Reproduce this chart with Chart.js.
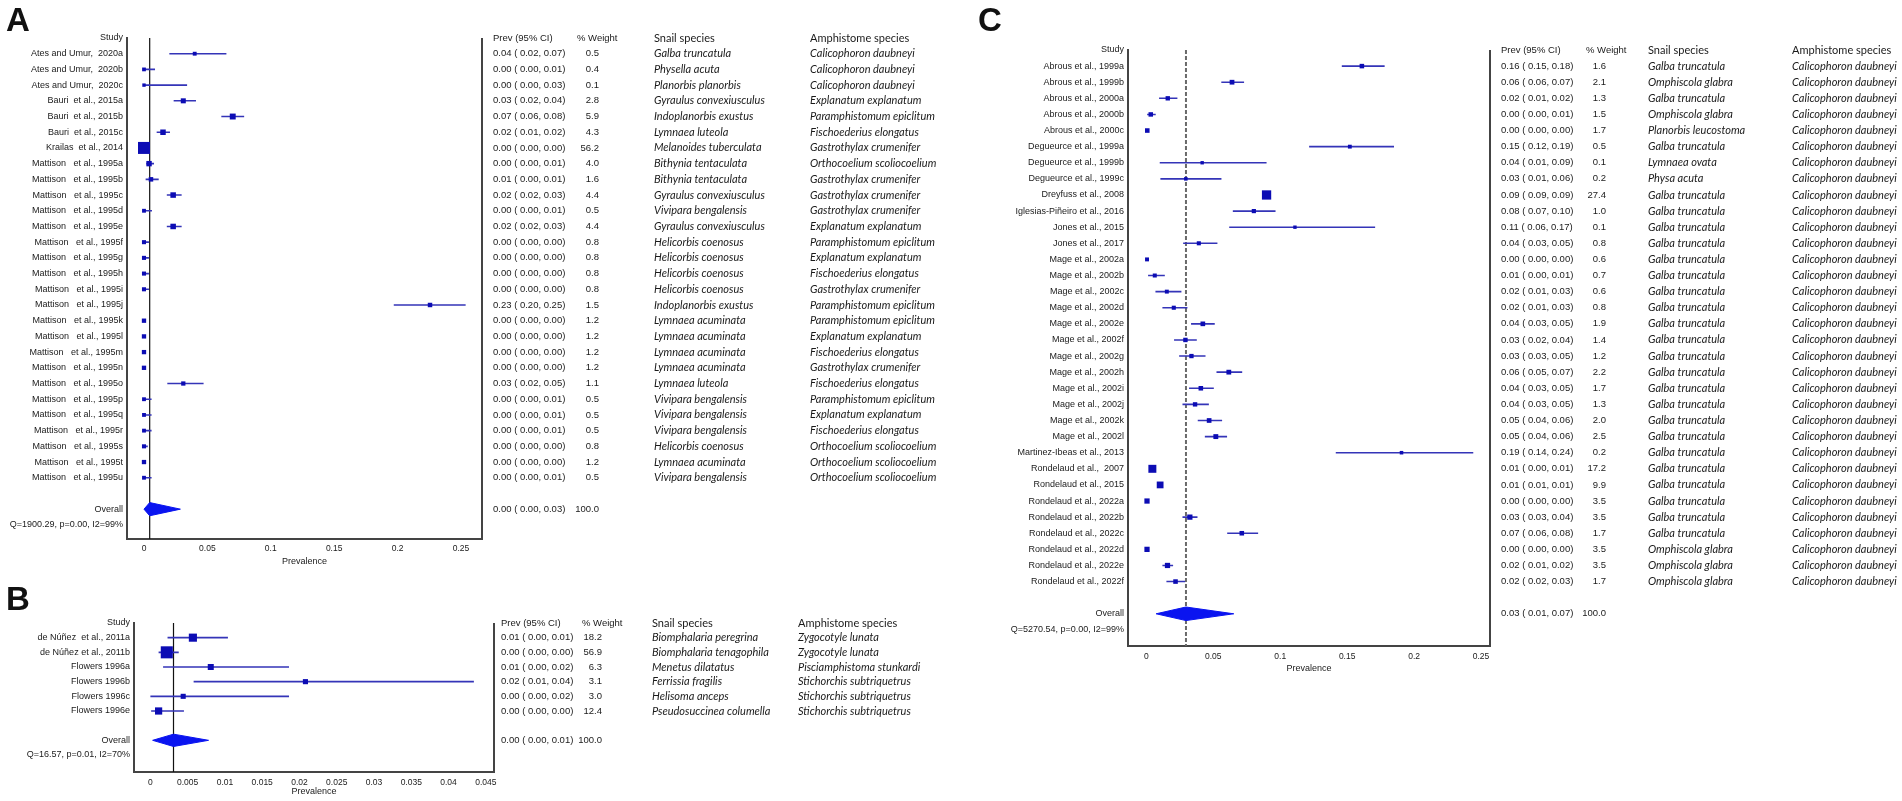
<!DOCTYPE html>
<html>
<head>
<meta charset="utf-8">
<script src="https://cdn.jsdelivr.net/npm/chart.js@4.4.1/dist/chart.umd.min.js"></script>
<style>
  body { margin: 0; background: #fff; width: 1902px; height: 801px; overflow: hidden; position: relative; }
  canvas { position: absolute; }
  .tag { position: absolute; font: bold 33px "Liberation Sans", Arial, sans-serif; line-height: 33px; color: #111; }
</style>
</head>
<body>
<canvas id="chartA" width="940" height="590" style="left:0;top:0"></canvas>
<canvas id="chartB" width="940" height="211" style="left:0;top:590px"></canvas>
<canvas id="chartC" width="962" height="801" style="left:940px;top:0"></canvas>
<div class="tag" style="left:6px;top:3px">A</div>
<div class="tag" style="left:6px;top:582px">B</div>
<div class="tag" style="left:978px;top:3px">C</div>
<script>
// Panel A data
const studiesA = ['Ates and Umur,  2020a', 'Ates and Umur,  2020b', 'Ates and Umur,  2020c',
  'Bauri  et al., 2015a', 'Bauri  et al., 2015b', 'Bauri  et al., 2015c', 'Krailas  et al., 2014',
  'Mattison   et al., 1995a', 'Mattison   et al., 1995b', 'Mattison   et al., 1995c', 'Mattison   et al., 1995d',
  'Mattison   et al., 1995e', 'Mattison   et al., 1995f', 'Mattison   et al., 1995g', 'Mattison   et al., 1995h',
  'Mattison   et al., 1995i', 'Mattison   et al., 1995j', 'Mattison   et al., 1995k', 'Mattison   et al., 1995l',
  'Mattison   et al., 1995m', 'Mattison   et al., 1995n', 'Mattison   et al., 1995o', 'Mattison   et al., 1995p',
  'Mattison   et al., 1995q', 'Mattison   et al., 1995r', 'Mattison   et al., 1995s', 'Mattison   et al., 1995t',
  'Mattison   et al., 1995u'];
const estA = [0.040, 0.000, 0.000, 0.031, 0.070, 0.015, 0.000, 0.004, 0.0055, 0.023, 0.000, 0.023, 0.000, 0.000,
  0.000, 0.000, 0.2256, 0.000, 0.000, 0.000, 0.000, 0.031, 0.000, 0.000, 0.000, 0.000, 0.000, 0.000];
const loA = [0.020, 0.000, 0.000, 0.0234, 0.061, 0.010, 0.000, 0.0018, 0.0013, 0.018, 0.000, 0.018, 0.000, 0.000,
  0.000, 0.000, 0.197, 0.000, 0.000, 0.000, 0.000, 0.0184, 0.000, 0.000, 0.000, 0.000, 0.000, 0.000];
const hiA = [0.065, 0.0087, 0.034, 0.041, 0.079, 0.0205, 0.0005, 0.0079, 0.0116, 0.0297, 0.0063, 0.0297, 0.0039, 0.0039,
  0.0039, 0.0039, 0.2537, 0.0008, 0.0008, 0.0008, 0.0008, 0.047, 0.006, 0.006, 0.006, 0.003, 0.0008, 0.006];
const weightA = [0.5, 0.4, 0.1, 2.8, 5.9, 4.3, 56.2, 4.0, 1.6, 4.4, 0.5, 4.4, 0.8, 0.8, 0.8, 0.8, 1.5, 1.2, 1.2, 1.2,
  1.2, 1.1, 0.5, 0.5, 0.5, 0.8, 1.2, 0.5];
const ciA = ['0.04 ( 0.02, 0.07)', '0.00 ( 0.00, 0.01)', '0.00 ( 0.00, 0.03)', '0.03 ( 0.02, 0.04)', '0.07 ( 0.06, 0.08)',
  '0.02 ( 0.01, 0.02)', '0.00 ( 0.00, 0.00)', '0.00 ( 0.00, 0.01)', '0.01 ( 0.00, 0.01)', '0.02 ( 0.02, 0.03)',
  '0.00 ( 0.00, 0.01)', '0.02 ( 0.02, 0.03)', '0.00 ( 0.00, 0.00)', '0.00 ( 0.00, 0.00)', '0.00 ( 0.00, 0.00)',
  '0.00 ( 0.00, 0.00)', '0.23 ( 0.20, 0.25)', '0.00 ( 0.00, 0.00)', '0.00 ( 0.00, 0.00)', '0.00 ( 0.00, 0.00)',
  '0.00 ( 0.00, 0.00)', '0.03 ( 0.02, 0.05)', '0.00 ( 0.00, 0.01)', '0.00 ( 0.00, 0.01)', '0.00 ( 0.00, 0.01)',
  '0.00 ( 0.00, 0.00)', '0.00 ( 0.00, 0.00)', '0.00 ( 0.00, 0.01)'];
const snailA = ['Galba truncatula', 'Physella acuta', 'Planorbis planorbis', 'Gyraulus convexiusculus',
  'Indoplanorbis exustus', 'Lymnaea luteola', 'Melanoides tuberculata', 'Bithynia tentaculata', 'Bithynia tentaculata',
  'Gyraulus convexiusculus', 'Vivipara bengalensis', 'Gyraulus convexiusculus', 'Helicorbis coenosus',
  'Helicorbis coenosus', 'Helicorbis coenosus', 'Helicorbis coenosus', 'Indoplanorbis exustus', 'Lymnaea acuminata',
  'Lymnaea acuminata', 'Lymnaea acuminata', 'Lymnaea acuminata', 'Lymnaea luteola', 'Vivipara bengalensis',
  'Vivipara bengalensis', 'Vivipara bengalensis', 'Helicorbis coenosus', 'Lymnaea acuminata', 'Vivipara bengalensis'];
const amphA = ['Calicophoron daubneyi', 'Calicophoron daubneyi', 'Calicophoron daubneyi', 'Explanatum explanatum',
  'Paramphistomum epiclitum', 'Fischoederius elongatus', 'Gastrothylax crumenifer', 'Orthocoelium scoliocoelium',
  'Gastrothylax crumenifer', 'Gastrothylax crumenifer', 'Gastrothylax crumenifer', 'Explanatum explanatum',
  'Paramphistomum epiclitum', 'Explanatum explanatum', 'Fischoederius elongatus', 'Gastrothylax crumenifer',
  'Paramphistomum epiclitum', 'Paramphistomum epiclitum', 'Explanatum explanatum', 'Fischoederius elongatus',
  'Gastrothylax crumenifer', 'Fischoederius elongatus', 'Paramphistomum epiclitum', 'Explanatum explanatum',
  'Fischoederius elongatus', 'Orthocoelium scoliocoelium', 'Orthocoelium scoliocoelium', 'Orthocoelium scoliocoelium'];
const pooledA = [0.000, 0.0045, 0.0287];
const pooledTextA = '0.00 ( 0.00, 0.03)';
const qA = 'Q=1900.29, p=0.00, I2=99%';

// Panel B data
const studiesB = ['de Núñez  et al., 2011a', 'de Núñez et al., 2011b', 'Flowers 1996a', 'Flowers 1996b',
  'Flowers 1996c', 'Flowers 1996e'];
const estB = [0.0057, 0.0022, 0.0081, 0.0208, 0.0044, 0.0011];
const loB = [0.0023, 0.0011, 0.0017, 0.0058, 0.0000, 0.0001];
const hiB = [0.0104, 0.0038, 0.0186, 0.0434, 0.0186, 0.0045];
const weightB = [18.2, 56.9, 6.3, 3.1, 3.0, 12.4];
const ciB = ['0.01 ( 0.00, 0.01)', '0.00 ( 0.00, 0.00)', '0.01 ( 0.00, 0.02)', '0.02 ( 0.01, 0.04)',
  '0.00 ( 0.00, 0.02)', '0.00 ( 0.00, 0.00)'];
const snailB = ['Biomphalaria peregrina', 'Biomphalaria tenagophila', 'Menetus dilatatus', 'Ferrissia fragilis',
  'Helisoma anceps', 'Pseudosuccinea columella'];
const amphB = ['Zygocotyle lunata', 'Zygocotyle lunata', 'Pisciamphistoma stunkardi', 'Stichorchis subtriquetrus',
  'Stichorchis subtriquetrus', 'Stichorchis subtriquetrus'];
const pooledB = [0.0003, 0.0031, 0.0078];
const pooledTextB = '0.00 ( 0.00, 0.01)';
const qB = 'Q=16.57, p=0.01, I2=70%';

// Panel C data
const studiesC = ['Abrous et al., 1999a', 'Abrous et al., 1999b', 'Abrous et al., 2000a', 'Abrous et al., 2000b',
  'Abrous et al., 2000c', 'Degueurce et al., 1999a', 'Degueurce et al., 1999b', 'Degueurce et al., 1999c',
  'Dreyfuss et al., 2008', 'Iglesias-Piñeiro et al., 2016', 'Jones et al., 2015', 'Jones et al., 2017',
  'Mage et al., 2002a', 'Mage et al., 2002b', 'Mage et al., 2002c', 'Mage et al., 2002d', 'Mage et al., 2002e',
  'Mage et al., 2002f', 'Mage et al., 2002g', 'Mage et al., 2002h', 'Mage et al., 2002i', 'Mage et al., 2002j',
  'Mage et al., 2002k', 'Mage et al., 2002l', 'Martinez-Ibeas et al., 2013', 'Rondelaud et al.,  2007',
  'Rondelaud et al., 2015', 'Rondelaud et al., 2022a', 'Rondelaud et al., 2022b', 'Rondelaud et al., 2022c',
  'Rondelaud et al., 2022d', 'Rondelaud et al., 2022e', 'Rondelaud et al., 2022f'];
const estC = [0.161, 0.064, 0.016, 0.0033, 0.0007, 0.152, 0.0417, 0.0295, 0.0898, 0.0803, 0.111, 0.0392, 0.0005,
  0.0063, 0.0153, 0.0205, 0.0422, 0.0292, 0.0337, 0.0616, 0.0407, 0.0364, 0.0469, 0.0519, 0.1906, 0.0045, 0.0103,
  0.0005, 0.0325, 0.0713, 0.0005, 0.0158, 0.0218];
const loC = [0.146, 0.056, 0.0095, 0.0006, 0.0, 0.1216, 0.010, 0.0105, 0.087, 0.0646, 0.0619, 0.0275, 0.0, 0.0013,
  0.0068, 0.012, 0.0334, 0.0207, 0.0245, 0.0524, 0.0319, 0.027, 0.0384, 0.0437, 0.1415, 0.003, 0.009, 0.0, 0.027,
  0.0604, 0.0, 0.012, 0.015];
const hiC = [0.178, 0.073, 0.0232, 0.007, 0.0015, 0.185, 0.0898, 0.0561, 0.093, 0.0965, 0.1709, 0.0531, 0.002,
  0.0138, 0.0262, 0.0307, 0.0511, 0.0377, 0.0442, 0.0716, 0.0504, 0.0467, 0.0566, 0.0603, 0.2442, 0.006, 0.0116,
  0.0012, 0.0382, 0.0835, 0.0012, 0.02, 0.029];
const weightC = [1.6, 2.1, 1.3, 1.5, 1.7, 0.5, 0.1, 0.2, 27.4, 1.0, 0.1, 0.8, 0.6, 0.7, 0.6, 0.8, 1.9, 1.4, 1.2, 2.2,
  1.7, 1.3, 2.0, 2.5, 0.2, 17.2, 9.9, 3.5, 3.5, 1.7, 3.5, 3.5, 1.7];
const ciC = ['0.16 ( 0.15, 0.18)', '0.06 ( 0.06, 0.07)', '0.02 ( 0.01, 0.02)', '0.00 ( 0.00, 0.01)',
  '0.00 ( 0.00, 0.00)', '0.15 ( 0.12, 0.19)', '0.04 ( 0.01, 0.09)', '0.03 ( 0.01, 0.06)', '0.09 ( 0.09, 0.09)',
  '0.08 ( 0.07, 0.10)', '0.11 ( 0.06, 0.17)', '0.04 ( 0.03, 0.05)', '0.00 ( 0.00, 0.00)', '0.01 ( 0.00, 0.01)',
  '0.02 ( 0.01, 0.03)', '0.02 ( 0.01, 0.03)', '0.04 ( 0.03, 0.05)', '0.03 ( 0.02, 0.04)', '0.03 ( 0.03, 0.05)',
  '0.06 ( 0.05, 0.07)', '0.04 ( 0.03, 0.05)', '0.04 ( 0.03, 0.05)', '0.05 ( 0.04, 0.06)', '0.05 ( 0.04, 0.06)',
  '0.19 ( 0.14, 0.24)', '0.01 ( 0.00, 0.01)', '0.01 ( 0.01, 0.01)', '0.00 ( 0.00, 0.00)', '0.03 ( 0.03, 0.04)',
  '0.07 ( 0.06, 0.08)', '0.00 ( 0.00, 0.00)', '0.02 ( 0.01, 0.02)', '0.02 ( 0.02, 0.03)'];
const snailC = ['Galba truncatula', 'Omphiscola glabra', 'Galba truncatula', 'Omphiscola glabra',
  'Planorbis leucostoma', 'Galba truncatula', 'Lymnaea ovata', 'Physa acuta', 'Galba truncatula', 'Galba truncatula',
  'Galba truncatula', 'Galba truncatula', 'Galba truncatula', 'Galba truncatula', 'Galba truncatula',
  'Galba truncatula', 'Galba truncatula', 'Galba truncatula', 'Galba truncatula', 'Galba truncatula',
  'Galba truncatula', 'Galba truncatula', 'Galba truncatula', 'Galba truncatula', 'Galba truncatula',
  'Galba truncatula', 'Galba truncatula', 'Galba truncatula', 'Galba truncatula', 'Galba truncatula',
  'Omphiscola glabra', 'Omphiscola glabra', 'Omphiscola glabra'];
const amphC = studiesC.map(() => 'Calicophoron daubneyi');
const pooledC = [0.0073, 0.0296, 0.0653];
const pooledTextC = '0.03 ( 0.01, 0.07)';
const qC = 'Q=5270.54, p=0.00, I2=99%';

// Styling
const SANS = '"Liberation Sans", Arial, sans-serif';
const CAL = 'Lato, "Open Sans", sans-serif';
const INK = '#1a1a1a';
const AXIS = '#444';
Chart.defaults.font.family = SANS;

// box side grows with study weight
const boxSide = w => 3 + 1.2 * Math.sqrt(w);

function buildDatasets(est, lo, hi, weight, pooled, dashedRef) {
  const n = est.length;
  const pooledRow = n + 2;
  const squares = est.map((v, i) => ({x: v, y: i + 1}));
  const ci = [];
  lo.forEach((v, i) => ci.push({x: v, y: i + 1}, {x: hi[i], y: i + 1}, {x: null, y: null}));
  const h = 0.42;
  return [
    {
      data: squares, showLine: false, pointStyle: 'rect',
      pointRadius: c => boxSide(weight[c.dataIndex]) / Math.SQRT2,
      pointBackgroundColor: '#0c0cb4', backgroundColor: '#0c0cb4', pointBorderWidth: 0
    },
    {
      data: [{x: pooled[0], y: pooledRow}, {x: pooled[1], y: pooledRow - h}, {x: pooled[2], y: pooledRow}],
      pointRadius: 0, borderColor: '#0a14f0', backgroundColor: '#0a14f0', borderWidth: 1, fill: '+1', tension: 0
    },
    {
      data: [{x: pooled[0], y: pooledRow}, {x: pooled[1], y: pooledRow + h}, {x: pooled[2], y: pooledRow}],
      pointRadius: 0, borderColor: '#0a14f0', borderWidth: 1, fill: false, tension: 0
    },
    { data: ci, pointRadius: 0, borderColor: '#3434b8', borderWidth: 1.6, fill: false },
    {
      data: [{x: pooled[1], y: 0}, {x: pooled[1], y: pooledRow + 5}],
      pointRadius: 0, fill: false,
      borderColor: dashedRef ? '#6a6a6a' : '#111', borderWidth: dashedRef ? 2 : 1.2,
      borderDash: dashedRef ? [4, 2] : []
    }
  ];
}

// right edge of the plot frame
const frameRight = {
  id: 'frameRight',
  afterDraw(chart) {
    const {ctx, chartArea: a} = chart;
    ctx.save();
    ctx.strokeStyle = AXIS;
    ctx.lineWidth = 2;
    ctx.beginPath();
    ctx.moveTo(a.right, a.top);
    ctx.lineTo(a.right, a.bottom + 1);
    ctx.stroke();
    ctx.restore();
  }
};

// text columns to the right of the plot, aligned on the study rows
function tablePlugin(t) {
  return {
    id: 'sideTable',
    afterDraw(chart) {
      const {ctx} = chart;
      const y = chart.scales.y;
      const put = (text, x, row, font, align) => {
        ctx.font = font;
        ctx.textAlign = align || 'left';
        ctx.fillText(text, x, y.getPixelForValue(row));
      };
      ctx.save();
      ctx.fillStyle = INK;
      ctx.textBaseline = 'middle';
      const num = '9.5px ' + SANS;
      put('Prev (95% CI)', t.xCi, 0, num);
      put('% Weight', t.xWtHead, 0, num);
      put('Snail species', t.xSnail, 0, '11px ' + CAL);
      put('Amphistome species', t.xAmph, 0, '11px ' + CAL);
      t.ci.forEach((s, i) => {
        put(s, t.xCi, i + 1, num);
        put(t.weight[i].toFixed(1), t.xWtVal, i + 1, num, 'right');
        put(t.snail[i], t.xSnail, i + 1, 'italic 11px ' + CAL);
        put(t.amph[i], t.xAmph, i + 1, 'italic 11px ' + CAL);
      });
      const pr = t.ci.length + 2;
      put(t.pooledText, t.xCi, pr, num);
      put('100.0', t.xWtVal, pr, num, 'right');
      ctx.restore();
    }
  };
}

function forestChart(id, p) {
  const n = p.est.length;
  const rowLabels = ['Study', ...p.studies, '', 'Overall', p.q];
  return new Chart(document.getElementById(id), {
    type: 'line',
    data: { datasets: buildDatasets(p.est, p.lo, p.hi, p.weight, p.pooled, p.dashed) },
    options: {
      responsive: false,
      animation: false,
      events: [],
      layout: { padding: { left: 0, top: p.top, right: p.padRight, bottom: p.padBottom } },
      plugins: { legend: { display: false }, tooltip: { enabled: false } },
      scales: {
        x: {
          type: 'linear', min: p.xMin, max: p.xMax,
          afterFit: s => { s.height = p.axisH; },
          grid: { display: false, drawTicks: false },
          border: { display: true, color: AXIS, width: 2 },
          ticks: {
            stepSize: p.step, includeBounds: false, autoSkip: false, maxRotation: 0, padding: p.tickPad,
            color: INK, font: { size: 8.5 }, callback: v => String(+v.toFixed(4))
          },
          title: { display: true, text: 'Prevalence', color: INK, font: { size: 9 }, padding: 0 }
        },
        y: {
          type: 'linear', reverse: true, min: 0, max: p.yMax,
          afterFit: s => { s.width = p.axisLeft; },
          grid: { display: false, drawTicks: false },
          border: { display: true, color: AXIS, width: 2 },
          ticks: {
            stepSize: 1, includeBounds: false, autoSkip: false, padding: 4,
            color: INK, font: { size: 9 }, callback: v => rowLabels[v] ?? ''
          }
        }
      }
    },
    plugins: [frameRight, tablePlugin({
      ci: p.ci, weight: p.weight, snail: p.snail, amph: p.amph, pooledText: p.pooledText,
      xCi: p.cols[0], xWtHead: p.cols[1], xWtVal: p.cols[2], xSnail: p.cols[3], xAmph: p.cols[4]
    })]
  });
}

forestChart('chartA', {
  studies: studiesA, est: estA, lo: loA, hi: hiA, weight: weightA, ci: ciA, snail: snailA, amph: amphA,
  pooled: pooledA, pooledText: pooledTextA, q: qA, dashed: false,
  xMin: -0.0134, xMax: 0.2666, step: 0.05, yMax: 31.9,
  axisLeft: 127, top: 38, padRight: 458, padBottom: 23, axisH: 28, tickPad: 5,
  cols: [493, 577, 599, 654, 810]
});

forestChart('chartB', {
  studies: studiesB, est: estB, lo: loB, hi: hiB, weight: weightB, ci: ciB, snail: snailB, amph: amphB,
  pooled: pooledB, pooledText: pooledTextB, q: qB, dashed: false,
  xMin: -0.0022, xMax: 0.0461, step: 0.005, yMax: 10.16,
  axisLeft: 134, top: 33, padRight: 446, padBottom: 4, axisH: 25, tickPad: 6,
  cols: [501, 582, 602, 652, 798]
});

forestChart('chartC', {
  studies: studiesC, est: estC, lo: loC, hi: hiC, weight: weightC, ci: ciC, snail: snailC, amph: amphC,
  pooled: pooledC, pooledText: pooledTextC, q: qC, dashed: true,
  xMin: -0.0137, xMax: 0.2567, step: 0.05, yMax: 37,
  axisLeft: 188, top: 50, padRight: 412, padBottom: 127, axisH: 28, tickPad: 6,
  cols: [561, 646, 666, 708, 852]
});
</script>
</body>
</html>
